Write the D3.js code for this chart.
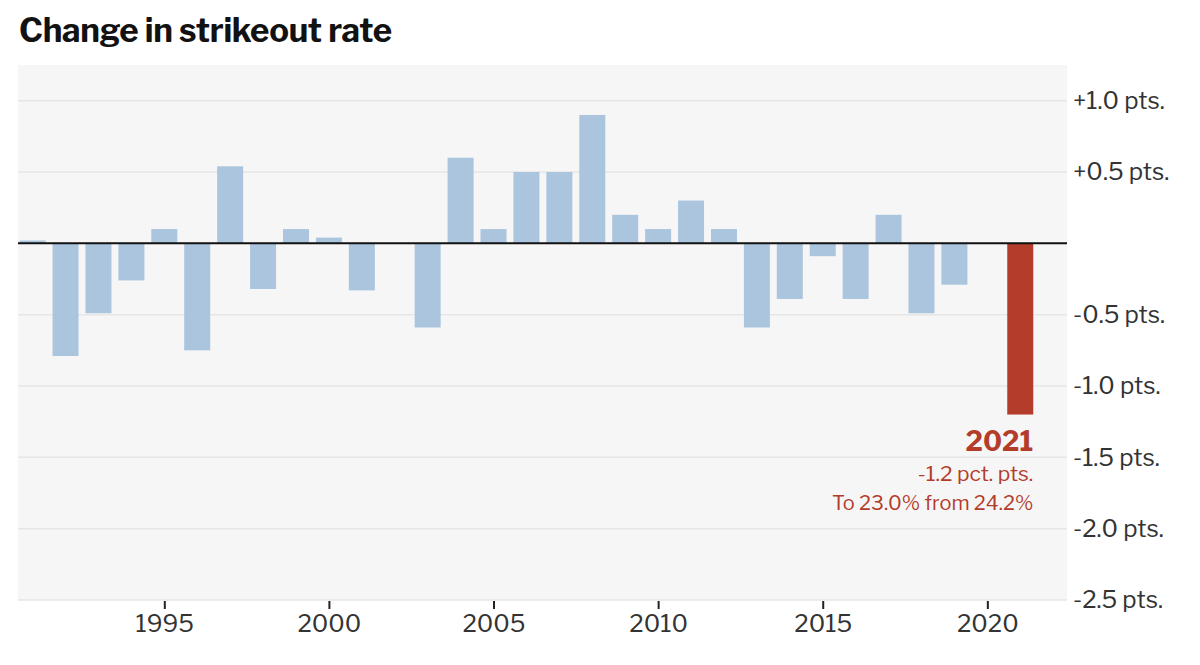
<!DOCTYPE html>
<html>
<head>
<meta charset="utf-8">
<script src="https://cdn.jsdelivr.net/npm/d3@7"></script>
<style>
  html, body { margin: 0; padding: 0; background: #fff; }
  svg { display: block; }
  text { font-family: "Libre Franklin", Roboto, "Noto Sans", sans-serif; }
</style>
</head>
<body>
<svg id="chart" width="1200" height="665"></svg>
<script>
// ---- data ----
const years = [1991, 1992, 1993, 1994, 1995, 1996, 1997, 1998, 1999, 2000,
               2001, 2002, 2003, 2004, 2005, 2006, 2007, 2008, 2009, 2010,
               2011, 2012, 2013, 2014, 2015, 2016, 2017, 2018, 2019, 2020, 2021];
const changes = [0.02, -0.79, -0.49, -0.26, 0.10, -0.75, 0.54, -0.32, 0.10, 0.04,
                 -0.33, null, -0.59, 0.60, 0.10, 0.50, 0.50, 0.90, 0.20, 0.10,
                 0.30, 0.10, -0.59, -0.39, -0.09, -0.39, 0.20, -0.49, -0.29, null, -1.20];
const highlightYear = 2021;
const yTicks = [1.0, 0.5, -0.5, -1.0, -1.5, -2.0, -2.5];
const yTickLabels = ["+1.0 pts.", "+0.5 pts.", "-0.5 pts.", "-1.0 pts.", "-1.5 pts.", "-2.0 pts.", "-2.5 pts."];
const xTicks = [1995, 2000, 2005, 2010, 2015, 2020];
const title = "Change in strikeout rate";
const annotation = ["2021", "-1.2 pct. pts.", "To 23.0% from 24.2%"];

const data = years.map((yr, i) => ({ year: yr, value: changes[i] })).filter(d => d.value !== null);

// ---- layout ----
const svg = d3.select("#chart");
const pLeft = 18, pRight = 1067, pTop = 65, pBottom = 600;

const x = d3.scaleLinear().domain([1990.556, 2022.42]).range([pLeft, pRight]);
const y = d3.scaleLinear().domain([-2.5, 1.25]).range([pBottom, pTop]);
const barW = 26;

const blue = "#abc5df";
const red = "#b43c2b";

// title
svg.append("text")
  .attr("x", 19).attr("y", 42)
  .attr("font-size", 33).attr("font-weight", 700)
  .attr("fill", "#121212")
  .attr("letter-spacing", -0.3)
  .text(title);

// panel
svg.append("rect")
  .attr("x", pLeft).attr("y", pTop)
  .attr("width", pRight - pLeft).attr("height", pBottom - pTop)
  .attr("fill", "#f6f6f6");

// grid lines
svg.append("g").selectAll("line")
  .data(yTicks)
  .join("line")
  .attr("x1", pLeft).attr("x2", pRight)
  .attr("y1", d => y(d)).attr("y2", d => y(d))
  .attr("stroke", "#e6e6e6").attr("stroke-width", 1.5);

// y labels
svg.append("g").selectAll("text")
  .data(yTicks)
  .join("text")
  .attr("x", 1073)
  .attr("y", d => y(d))
  .attr("dy", "0.35em")
  .attr("font-size", 24)
  .attr("fill", "#333")
  .text((d, i) => yTickLabels[i]);

// bars
svg.append("g").selectAll("rect")
  .data(data)
  .join("rect")
  .attr("x", d => x(d.year) - barW / 2)
  .attr("width", barW)
  .attr("y", d => y(Math.max(0, d.value)))
  .attr("height", d => Math.abs(y(d.value) - y(0)))
  .attr("fill", d => d.year === highlightYear ? red : blue);

// zero line
svg.append("line")
  .attr("x1", pLeft).attr("x2", pRight)
  .attr("y1", y(0)).attr("y2", y(0))
  .attr("stroke", "#111").attr("stroke-width", 2);

// x axis
const xAxis = d3.axisBottom(x)
  .tickValues(xTicks)
  .tickFormat(d3.format("d"))
  .tickSize(8)
  .tickPadding(6);
const gx = svg.append("g")
  .attr("transform", `translate(0,${pBottom + 1})`)
  .call(xAxis);
gx.select(".domain").remove();
gx.selectAll(".tick line").attr("stroke", "#222").attr("stroke-width", 2);
gx.selectAll(".tick text")
  .attr("font-size", 24)
  .attr("fill", "#333")
  .attr("font-family", "\"Libre Franklin\", Roboto, \"Noto Sans\", sans-serif");

// annotation
const hv = data.find(d => d.year === highlightYear);
const ax = x(hv.year) + barW / 2;
const ann = svg.append("g").attr("fill", red).attr("text-anchor", "end");
ann.append("text")
  .attr("x", ax).attr("y", 451)
  .attr("font-size", 27).attr("font-weight", 700)
  .text(annotation[0]);
ann.append("text")
  .attr("x", ax).attr("y", 481)
  .attr("font-size", 21)
  .text(annotation[1]);
ann.append("text")
  .attr("x", ax).attr("y", 510)
  .attr("font-size", 20)
  .text(annotation[2]);
</script>
</body>
</html>
